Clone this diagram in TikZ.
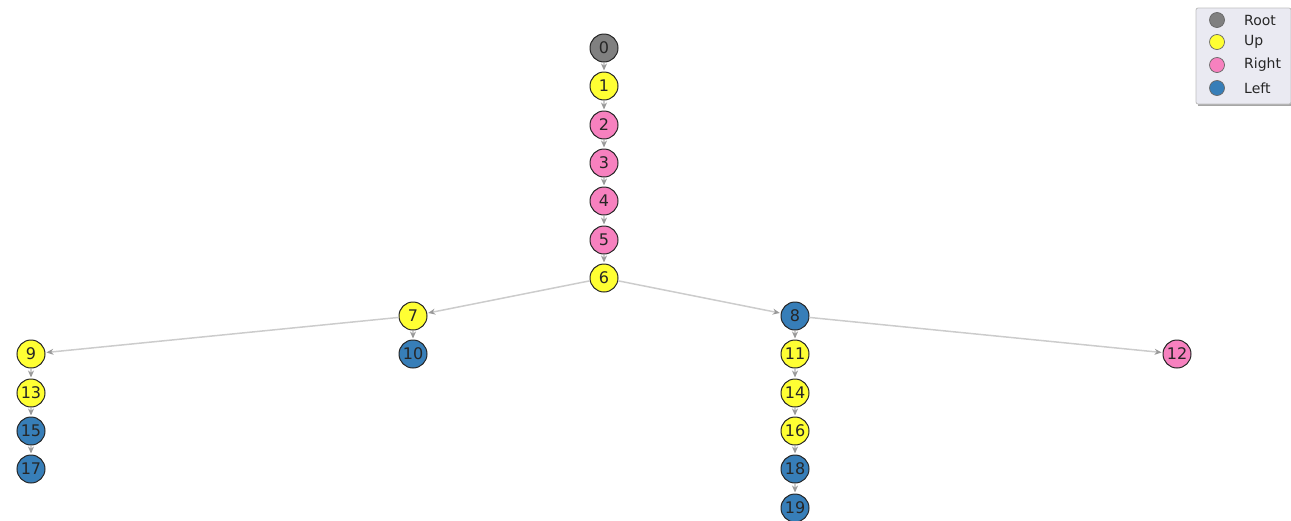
\documentclass[tikz,border=0pt]{standalone}
\usepackage{fontspec}
\setmainfont{DejaVu Sans}
\usetikzlibrary{arrows.meta}
\definecolor{cRoot}{HTML}{808080}
\definecolor{cUp}{HTML}{FFFF33}
\definecolor{cRight}{HTML}{F781BF}
\definecolor{cLeft}{HTML}{377EB8}
\definecolor{edgec}{HTML}{CCCCCC}
\definecolor{tipc}{HTML}{999999}
\definecolor{legbg}{HTML}{EAEAF2}
\tikzset{
  vtx/.style={circle, draw=black!85, line width=1pt, minimum size=28pt, inner sep=0pt, font=\fontsize{16}{16}\selectfont, text=black!85},
  root/.style={vtx, fill=cRoot},
  up/.style={vtx, fill=cUp},
  right/.style={vtx, fill=cRight},
  left/.style={vtx, fill=cLeft},
  edge/.style={draw=edgec, line width=1.5pt, -{Stealth[length=7pt,width=6pt,fill=tipc,color=tipc]}, shorten >=1pt},
  legm/.style={circle, draw=black!60, line width=0.7pt, minimum size=15pt, inner sep=0pt},
  legt/.style={anchor=west, font=\fontsize{14}{14}\selectfont, text=black!85, inner sep=0pt}
}
\begin{document}
\begin{tikzpicture}[x=1pt,y=-1pt]
\useasboundingbox (0,0) rectangle (1291,520);
% nodes
\node[root]  (n0)  at (604,48)  {0};
\node[up]    (n1)  at (604,86)  {1};
\node[right] (n2)  at (604,125) {2};
\node[right] (n3)  at (604,163) {3};
\node[right] (n4)  at (604,201) {4};
\node[right] (n5)  at (604,240) {5};
\node[up]    (n6)  at (604,278) {6};
\node[up]    (n7)  at (413,316) {7};
\node[left]  (n8)  at (795,316) {8};
\node[up]    (n9)  at (31,354)  {9};
\node[left]  (n10) at (413,354) {10};
\node[up]    (n11) at (795,354) {11};
\node[right] (n12) at (1177,354) {12};
\node[up]    (n13) at (31,393)  {13};
\node[up]    (n14) at (795,393) {14};
\node[left]  (n15) at (31,431)  {15};
\node[up]    (n16) at (795,431) {16};
\node[left]  (n17) at (31,469)  {17};
\node[left]  (n18) at (795,469) {18};
\node[left]  (n19) at (795,508) {19};
% edges
\foreach \a/\b in {n0/n1,n1/n2,n2/n3,n3/n4,n4/n5,n5/n6,n6/n7,n6/n8,n7/n9,n7/n10,n8/n11,n8/n12,n9/n13,n13/n15,n15/n17,n11/n14,n14/n16,n16/n18,n18/n19}
  \draw[edge] (\a) -- (\b);
% legend
\fill[black!35] (1198,10) rectangle (1293,106);
\draw[draw=black!25, fill=legbg, line width=0.8pt, rounded corners=2pt] (1196,8) rectangle (1291,104);
\node[legm, fill=cRoot]  (l0) at (1217,20) {};
\node[legm, fill=cUp]    (l1) at (1217,42) {};
\node[legm, fill=cRight] (l2) at (1217,65) {};
\node[legm, fill=cLeft]  (l3) at (1217,88) {};
\node[legt] (t0) at (1244,20) {Root};
\node[legt] (t1) at (1244,42) {Up};
\node[legt] (t2) at (1244,65) {Right};
\node[legt] (t3) at (1244,88) {Left};
\end{tikzpicture}
\end{document}
